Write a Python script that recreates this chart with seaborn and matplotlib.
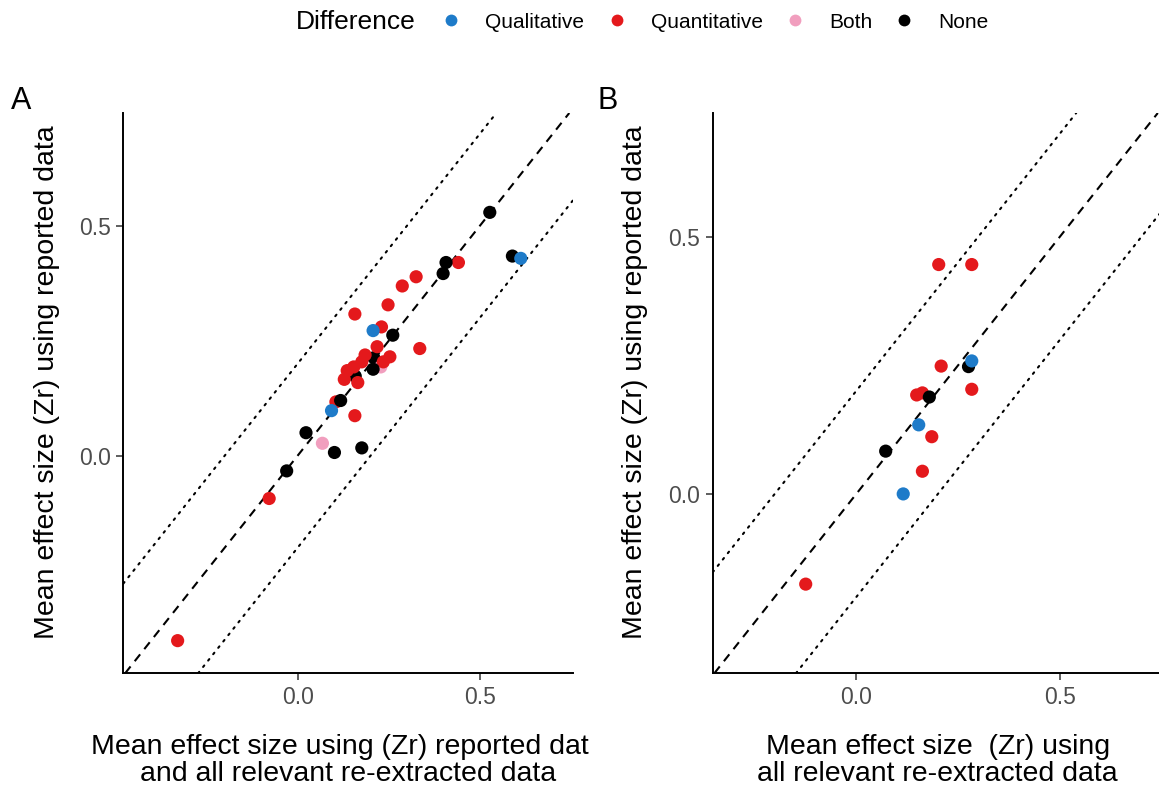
import matplotlib
matplotlib.use("Agg")
import matplotlib.pyplot as plt
import seaborn as sns
import pandas as pd
from matplotlib.transforms import Bbox, TransformedBbox
from matplotlib.lines import Line2D

sns.set_theme(style="ticks")
plt.rcParams["font.family"] = ["Liberation Sans", "DejaVu Sans"]
plt.rcParams["text.color"] = "black"
plt.rcParams["axes.labelcolor"] = "black"

# Difference categories and colours
categories = ["Qualitative", "Quantitative", "Both", "None"]
colors = ["#1E7BC9", "#E4191C", "#F19EBE", "#000000"]

# Panel A: reported + all relevant re-extracted data (x) vs reported data (y)
a_x = [0.209, 0.158, 0.228, 0.105,
       0.441, 0.325, 0.287, 0.248, 0.157, 0.230, 0.218, 0.335, 0.253, 0.235,
       0.185, 0.176, 0.154, 0.136, 0.128, 0.165, 0.157, -0.078, -0.329,
       0.527, 0.589, 0.407, 0.399, 0.261, 0.207, 0.118, 0.023, 0.101, 0.176,
       -0.030, 0.612, 0.207, 0.093, 0.068]
a_y = [0.213, 0.173, 0.193, 0.117,
       0.420, 0.389, 0.369, 0.328, 0.308, 0.280, 0.237, 0.233, 0.215, 0.204,
       0.219, 0.204, 0.193, 0.185, 0.166, 0.159, 0.087, -0.093, -0.402,
       0.529, 0.434, 0.420, 0.396, 0.262, 0.188, 0.120, 0.050, 0.007, 0.017,
       -0.033, 0.429, 0.272, 0.098, 0.027]
a_diff = ["None", "None", "Both", "Quantitative",
          "Quantitative", "Quantitative", "Quantitative", "Quantitative",
          "Quantitative", "Quantitative", "Quantitative", "Quantitative",
          "Quantitative", "Quantitative", "Quantitative", "Quantitative",
          "Quantitative", "Quantitative", "Quantitative", "Quantitative",
          "Quantitative", "Quantitative", "Quantitative",
          "None", "None", "None", "None", "None", "None", "None", "None",
          "None", "None", "None",
          "Qualitative", "Qualitative", "Qualitative", "Both"]

# Panel B: all relevant re-extracted data (x) vs reported data (y)
b_x = [0.203, 0.284, 0.209, 0.149, 0.163, 0.284, 0.186, 0.163, -0.123,
       0.180, 0.276, 0.073, 0.284, 0.154, 0.116]
b_y = [0.446, 0.446, 0.249, 0.193, 0.197, 0.204, 0.112, 0.045, -0.174,
       0.189, 0.248, 0.084, 0.259, 0.135, 0.001]
b_diff = ["Quantitative"] * 9 + ["None"] * 3 + ["Qualitative"] * 3

# Tick values
ticks = [0.0, 0.5]
tick_labels = ["0.0", "0.5"]

W, H = 1159, 787
fig = plt.figure(figsize=(W / 100, H / 100), dpi=100)
fig.patch.set_facecolor("white")

panel_w, panel_h = 450, 560.3
bottom_px = 113.7
ax_a = fig.add_axes([123.3 / W, bottom_px / H, panel_w / W, panel_h / H])
ax_b = fig.add_axes([712.7 / W, bottom_px / H, panel_w / W, panel_h / H])

palette = dict(zip(categories, colors))
panels = [
    (ax_a, a_x, a_y, a_diff, (-0.478, 0.756), (-0.473, 0.745),
     "Mean effect size using (Zr) reported data\nand all relevant re-extracted data"),
    (ax_b, b_x, b_y, b_diff, (-0.351, 0.752), (-0.347, 0.740),
     "Mean effect size  (Zr) using\nall relevant re-extracted data"),
]

for ax, xs, ys, ds, xl, yl, xlabel in panels:
    df = pd.DataFrame({"x": xs, "y": ys, "Difference": ds})
    ax.axline((0, 0), slope=1, color="black", lw=1.5,
              linestyle=(0, (4.2, 3.2)), zorder=1)
    for off in (0.2, -0.2):
        ax.axline((0, off), slope=1, color="black", lw=1.5,
                  linestyle=(0, (0.9, 3.0)), dash_capstyle="round", zorder=1)
    sns.scatterplot(data=df, x="x", y="y", hue="Difference",
                    hue_order=categories, palette=palette, s=90,
                    linewidth=0, legend=False, ax=ax, zorder=3)
    ax.set_xlim(*xl)
    ax.set_ylim(*yl)
    ax.set_xticks(ticks)
    ax.set_xticklabels(tick_labels)
    ax.set_yticks(ticks)
    ax.set_yticklabels(tick_labels)
    ax.tick_params(axis="both", labelsize=16.5, labelcolor="#4D4D4D",
                   length=5, width=1.1, color="#333333", pad=4)
    for side in ("top", "right"):
        ax.spines[side].set_visible(False)
    for side in ("left", "bottom"):
        ax.spines[side].set_linewidth(1.4)
        ax.spines[side].set_color("black")
    ax.set_xlabel(xlabel, fontsize=20.5, labelpad=18, linespacing=1.08)
    ax.set_ylabel("Mean effect size (Zr) using reported data", fontsize=20.5)
    ax.grid(False)

ax_a.yaxis.set_label_coords(-0.141, 0.52)
ax_b.yaxis.set_label_coords(-0.143, 0.52)

# The long label under panel A is cut off at the edge of its cell
clip = TransformedBbox(Bbox([[0, 0], [590 / W, 1]]), fig.transFigure)
ax_a.xaxis.label.set_clip_on(True)
ax_a.xaxis.label.set_clip_box(clip)

fig.text(11 / W, 1 - 101 / H, "A", fontsize=22, va="center", ha="left")
fig.text(598 / W, 1 - 101 / H, "B", fontsize=22, va="center", ha="left")

# Legend across the top
fig.text(296 / W, 1 - 22 / H, "Difference", fontsize=19, va="center", ha="left")
handles = [Line2D([], [], marker="o", linestyle="", markersize=8.5,
                  markerfacecolor=c, markeredgewidth=0) for c in colors]
fig.legend(handles, categories, loc="center left",
           bbox_to_anchor=(441 / W, 1 - 22 / H), ncol=4, frameon=False,
           fontsize=15, handlelength=1.0, handletextpad=1.13,
           columnspacing=1.05, borderaxespad=0, borderpad=0)

fig.savefig("out.png", dpi=100, facecolor="white")
